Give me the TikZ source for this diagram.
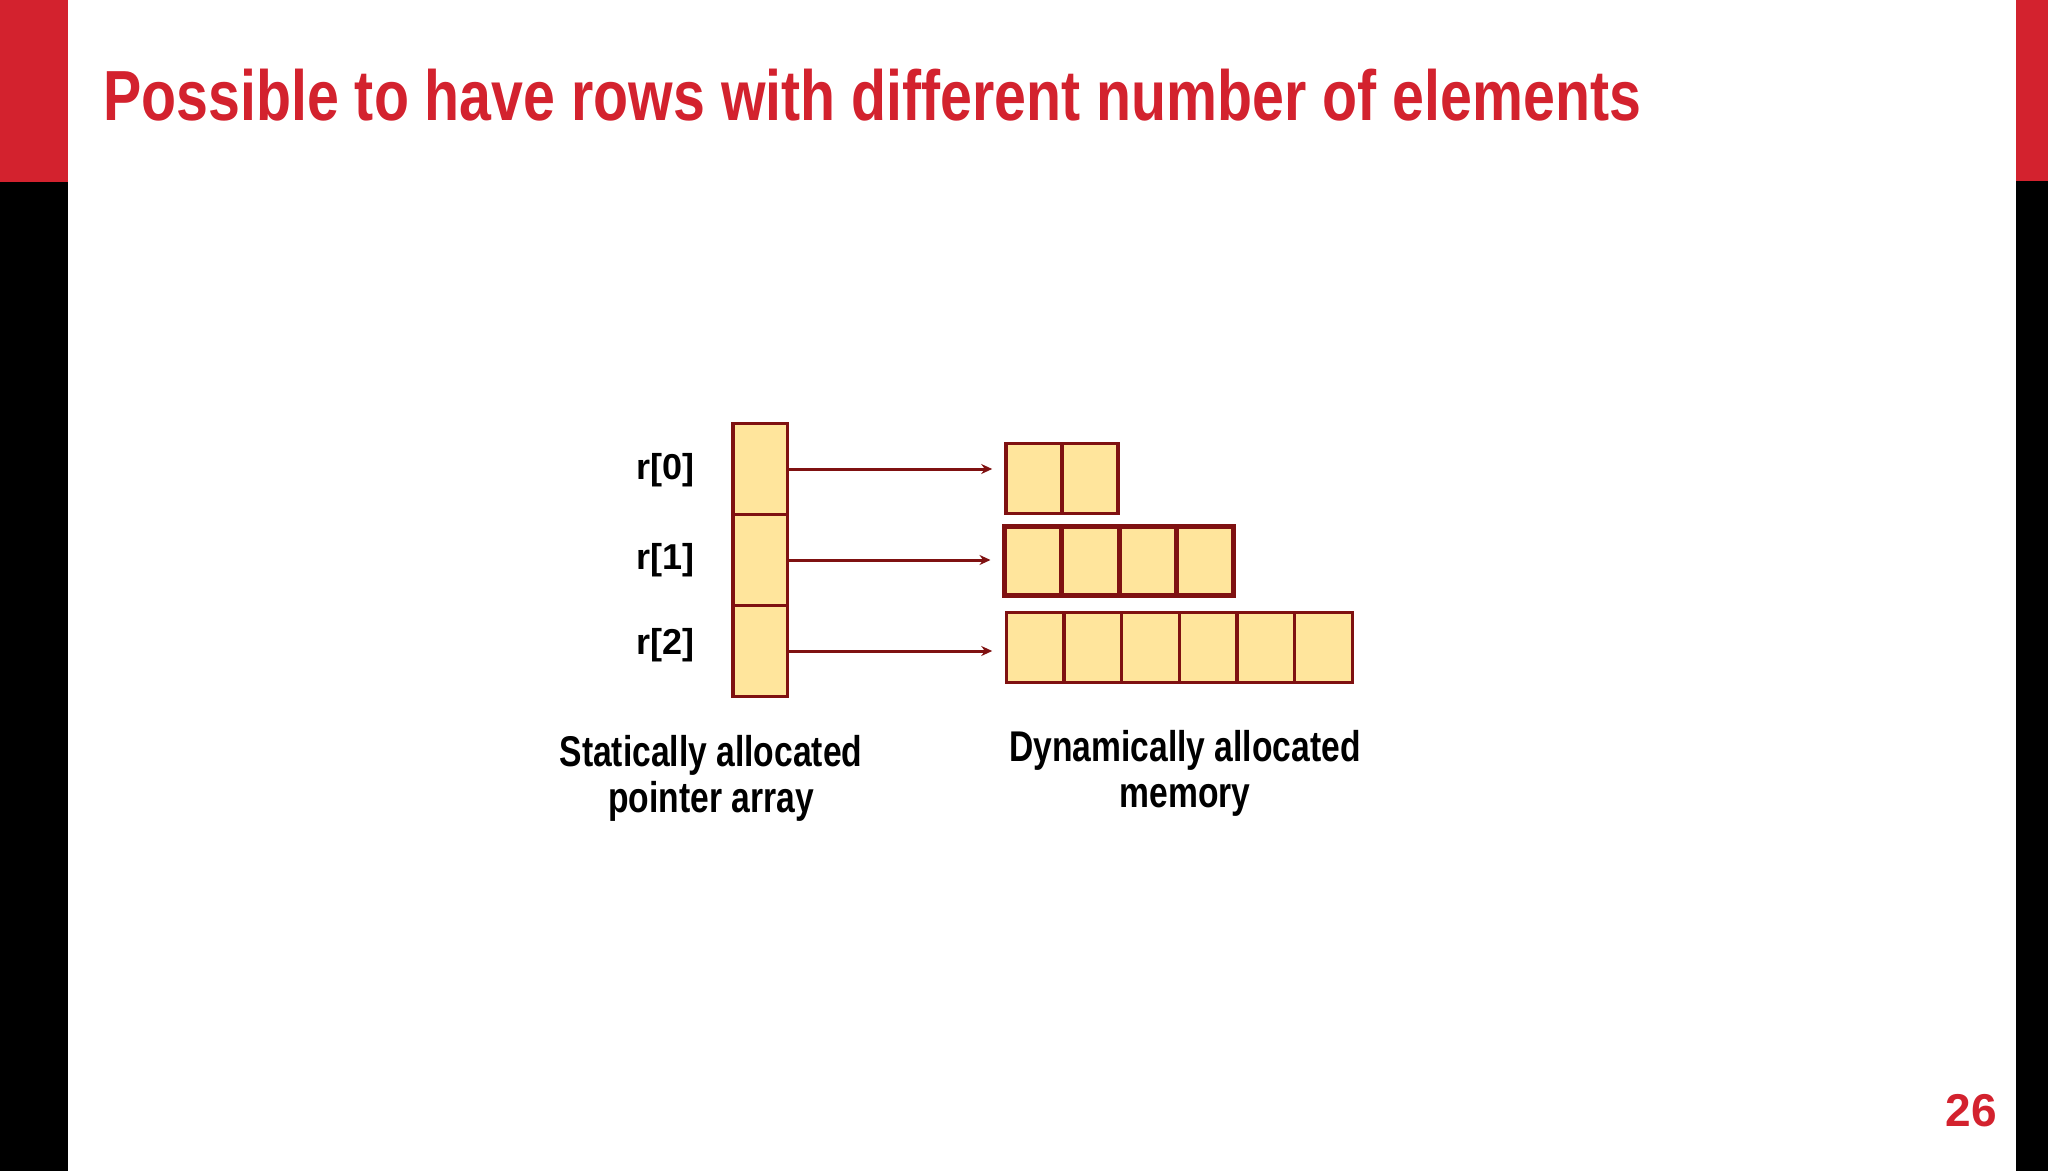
\documentclass[tikz,border=0pt]{standalone}
\usepackage{fontspec}
\usepackage{xcolor}
\usepackage{tikz}
\usetikzlibrary{arrows.meta}
\newfontfamily\narrowsans{Liberation Sans}[FakeStretch=0.807]
\newfontfamily\captionsans{Liberation Sans}[FakeStretch=0.782]
\newfontfamily\plainsans{Liberation Sans}
\definecolor{slidered}{HTML}{D3222E}
\definecolor{cellfill}{HTML}{FFE59C}
\definecolor{celledge}{HTML}{7F1111}

\begin{document}
\begin{tikzpicture}[x=0.5pt, y=-0.5pt,
  ptrcell/.style={draw=celledge, fill=cellfill, line width=1.75pt, minimum width=27.25pt, minimum height=45.5pt, inner sep=0pt, outer sep=0pt},
  memcell/.style={draw=celledge, fill=cellfill, line width=1.75pt, minimum width=28pt, minimum height=35pt, inner sep=0pt, outer sep=0pt},
  widecell/.style={memcell, line width=2.5pt, minimum width=28.6pt, minimum height=34.5pt},
  longcell/.style={memcell, minimum width=28.85pt},
  ptrarrow/.style={draw=celledge, line width=1.5pt, -{Stealth[length=5.5pt,width=5pt]}, shorten >=7pt},
  idxlabel/.style={font=\plainsans\bfseries\fontsize{18pt}{20pt}\selectfont, anchor=east, inner sep=0pt},
  caption/.style={font=\captionsans\bfseries\fontsize{21.5pt}{23pt}\selectfont, align=center, anchor=base, inner sep=0pt}]
  \useasboundingbox (0,0) rectangle (2048,1171);
  % side bands
  \fill[slidered] (0,0) rectangle (68,182);
  \fill[black] (0,182) rectangle (68,1171);
  \fill[slidered] (2016,0) rectangle (2048,181);
  \fill[black] (2016,181) rectangle (2048,1171);
  \node[anchor=base west, inner sep=0pt, text=slidered, font=\narrowsans\bfseries\fontsize{35.5pt}{40pt}\selectfont] (title) at (103,121) {Possible to have rows with different number of elements};
  \node[anchor=base east, inner sep=0pt, text=slidered, font=\plainsans\bfseries\fontsize{23pt}{26pt}\selectfont] (pagenum) at (1997,1126) {26};
  % pointer array
  \node[ptrcell] (p0) at (760,469) {};
  \node[ptrcell] (p1) at (760,560) {};
  \node[ptrcell] (p2) at (760,651) {};
  \node[idxlabel] (l0) at (695,470) {r[0]};
  \node[idxlabel] (l1) at (695,560) {r[1]};
  \node[idxlabel] (l2) at (695,645) {r[2]};
  % rows
  \node[memcell] (m00) at (1034.2,478.4) {};
  \node[memcell] (m01) at (1090.2,478.4) {};
  \node[widecell] (m10) at (1033.1,561) {};
  \node[widecell] (m11) at (1090.4,561) {};
  \node[widecell] (m12) at (1147.6,561) {};
  \node[widecell] (m13) at (1204.9,561) {};
  \node[longcell] (m20) at (1035.1,647.4) {};
  \node[longcell] (m21) at (1092.8,647.4) {};
  \node[longcell] (m22) at (1150.5,647.4) {};
  \node[longcell] (m23) at (1208.1,647.4) {};
  \node[longcell] (m24) at (1265.8,647.4) {};
  \node[longcell] (m25) at (1323.5,647.4) {};
  \draw[ptrarrow] (p0.east) -- (p0.east -| m00.west);
  \draw[ptrarrow] (p1.east) -- (p1.east -| m10.west);
  \draw[ptrarrow] (p2.east) -- (p2.east -| m20.west);
  \node[caption] (capstat) at (711,812) {Statically allocated\\pointer array};
  \node[caption] (capdyn) at (1185,807) {Dynamically allocated\\memory};
\end{tikzpicture}
\end{document}
